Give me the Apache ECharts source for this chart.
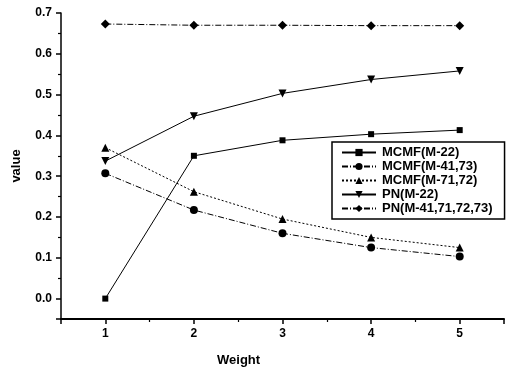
<!DOCTYPE html>
<html>
<head>
<meta charset="utf-8">
<script src="https://cdn.jsdelivr.net/npm/echarts@6/dist/echarts.min.js"></script>
<style>
html, body { margin: 0; padding: 0; background: #fff; }
#chart { width: 507px; height: 370px; }
</style>
</head>
<body>
<div id="chart"></div>
<script>
// weights on the x axis
var weights = [1, 2, 3, 4, 5];

var seriesNames = ['MCMF(M-22)', 'MCMF(M-41,73)', 'MCMF(M-71,72)', 'PN(M-22)', 'PN(M-41,71,72,73)'];
var mcmf22 = [0.0, 0.350, 0.388, 0.403, 0.413];
var mcmf4173 = [0.307, 0.217, 0.160, 0.125, 0.103];
var mcmf7172 = [0.370, 0.262, 0.195, 0.150, 0.125];
var pn22 = [0.337, 0.447, 0.503, 0.537, 0.558];
var pnAll = [0.673, 0.670, 0.670, 0.669, 0.669];

var chart = echarts.init(document.getElementById('chart'));

var font = 'Liberation Sans, Arial, sans-serif';

function pairs(vals) {
	return weights.map(function (w, i) { return [w, vals[i]]; });
}

function mk(name, vals, symbol, lineType, rotate) {
	return {
		name: name,
		type: 'line',
		data: pairs(vals),
		symbol: symbol,
		symbolSize: symbol === 'rect' ? 6 : (symbol === 'diamond' ? 9 : 8),
		symbolRotate: rotate || 0,
		showSymbol: true,
		itemStyle: { color: '#000' },
		lineStyle: { color: '#000', width: 1, type: lineType },
		animation: false
	};
}

var option = {
	grid: { left: 61, right: 2, top: 13, bottom: 51 },
	xAxis: {
		type: 'value', min: 0.5, max: 5.5, position: 'bottom',
		axisLine: { show: true, onZero: false, lineStyle: { color: '#000', width: 2 } },
		splitLine: { show: false },
		axisTick: { show: true, length: 5, lineStyle: { color: '#000', width: 1.5 } },
		minorTick: { show: true, splitNumber: 2, length: 3, lineStyle: { color: '#000', width: 1.2 } },
		axisLabel: {
			color: '#000', fontFamily: font, fontWeight: 'bold', fontSize: 12, margin: 9,
			formatter: function (v) { return v % 1 === 0 ? String(v) : ''; }
		}
	},
	yAxis: {
		type: 'value', min: -0.05, max: 0.7,
		name: 'value', nameLocation: 'middle', nameGap: 38,
		nameTextStyle: { color: '#000', fontFamily: font, fontWeight: 'bold', fontSize: 13 },
		axisLine: { show: true, onZero: false, lineStyle: { color: '#000', width: 1.5 } },
		splitLine: { show: false },
		axisTick: { show: true, length: 5, lineStyle: { color: '#000', width: 1.5 } },
		minorTick: { show: true, splitNumber: 2, length: 3, lineStyle: { color: '#000', width: 1.2 } },
		axisLabel: {
			color: '#000', fontFamily: font, fontWeight: 'bold', fontSize: 12, margin: 9,
			formatter: function (v) { return v < 0 ? '' : v.toFixed(1); }
		}
	},
	legend: {
		data: seriesNames,
		orient: 'vertical',
		left: 332, top: 142,
		width: 175,
		padding: [4, 12, 4, 9],
		itemGap: 1,
		itemWidth: 34, itemHeight: 9,
		borderColor: '#000', borderWidth: 1.5, borderRadius: 0,
		backgroundColor: '#fff',
		textStyle: { color: '#000', fontFamily: font, fontWeight: 'bold', fontSize: 13, padding: [0, 0, 0, 1] }
	},
	graphic: [{
		type: 'text', left: 217, top: 354,
		style: { text: 'Weight', fill: '#000', font: 'bold 13px ' + font }
	}],
	series: [
		mk(seriesNames[0], mcmf22, 'rect', 'solid'),
		mk(seriesNames[1], mcmf4173, 'circle', [6, 2, 1, 2]),
		mk(seriesNames[2], mcmf7172, 'triangle', [2, 2]),
		mk(seriesNames[3], pn22, 'triangle', 'solid', 180),
		mk(seriesNames[4], pnAll, 'diamond', [6, 2, 1, 2])
	]
};

chart.setOption(option);
</script>
</body>
</html>
